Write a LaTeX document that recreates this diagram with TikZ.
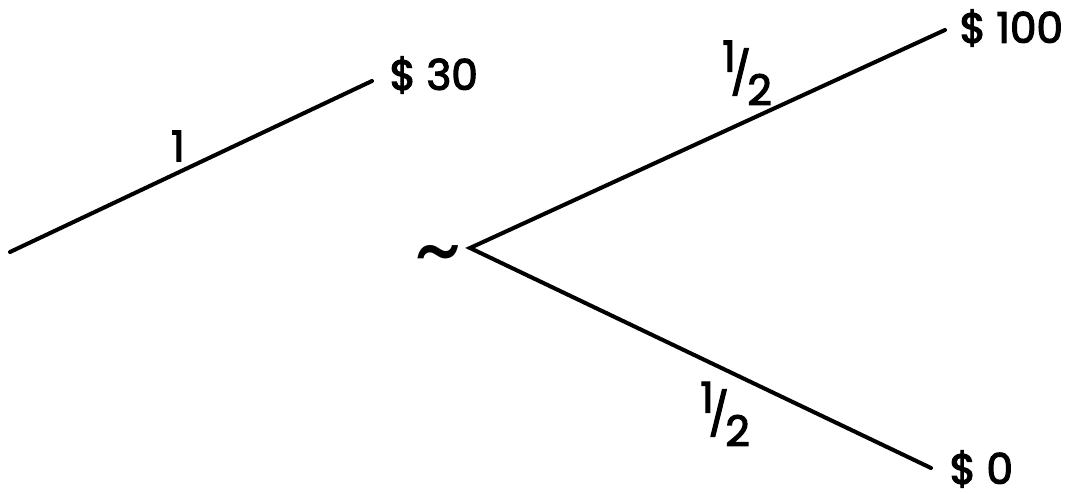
\documentclass[tikz,border=0pt]{standalone}
\usepackage{fontspec}
\setmainfont{Poppins}
\newfontfamily\lblfont{Poppins}[FakeBold=3]
\begin{document}
\begin{tikzpicture}[x=0.1mm,y=-0.1mm,
  branch/.style={line width=1.15pt,line cap=round},
  lbl/.style={inner sep=0pt,font=\lblfont\fontsize{12}{14}\selectfont},
  payoff/.style={lbl,anchor=west}]
\useasboundingbox (0,0) rectangle (1065,494);
% left lottery
\coordinate (s1) at (10,252);
\coordinate (e1) at (372,81);
\draw[branch] (s1) -- (e1);
\node[payoff] (p30) at (389,75) {\$\hspace{0.25em}30};
\node[lbl] (one) at (178,146) {1};
% right lottery
\coordinate (s2) at (470,248);
\coordinate (e2) at (945,30);
\coordinate (e3) at (931,468);
\draw[branch] (e2) -- (s2) -- (e3);
\node[payoff] (p100) at (959,28) {\$\hspace{0.25em}100};
\node[payoff] (p0) at (949,469) {\$\hspace{0.25em}0};
\node[lbl] (h1) at (747,73) {\raisebox{0.4em}{1}\kern-0.12em/\kern-0.08em\raisebox{-0.4em}{2}};
\node[lbl] (h2) at (725,414) {\raisebox{0.4em}{1}\kern-0.12em/\kern-0.08em\raisebox{-0.4em}{2}};
\node[inner sep=0pt,font=\fontsize{26}{26}\selectfont] (tilde) at (438,264) {\textasciitilde};
\end{tikzpicture}
\end{document}
